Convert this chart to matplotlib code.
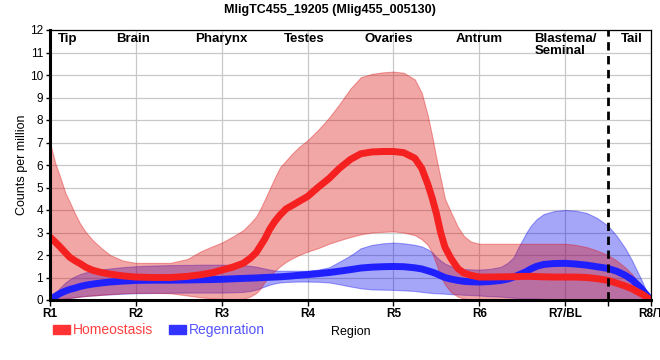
import numpy as np
import matplotlib
matplotlib.use("Agg")
import matplotlib.pyplot as plt
from matplotlib.patches import Patch

plt.rcParams['font.family'] = ['Liberation Sans', 'DejaVu Sans']

# positions along the body (0 = R1 ... 7 = R8)
pos = [0, 0.06, 0.12, 0.18, 0.23, 0.29, 0.35, 0.42, 0.5, 0.6,
       0.7, 0.85, 1.0, 1.2, 1.4, 1.6, 1.75, 1.9, 2.0, 2.12,
       2.25, 2.33, 2.4, 2.45, 2.5, 2.56, 2.62, 2.68, 2.75, 2.82,
       2.9, 3.0, 3.12, 3.25, 3.37, 3.5, 3.62, 3.75, 3.88, 4.0,
       4.12, 4.25, 4.33, 4.4, 4.45, 4.5, 4.55, 4.6, 4.67, 4.75,
       4.82, 4.9, 5.0, 5.12, 5.25, 5.33, 5.4, 5.45, 5.5, 5.55,
       5.6, 5.67, 5.75, 5.87, 6.0, 6.12, 6.25, 6.37, 6.5, 6.6,
       6.7, 6.78, 6.85, 6.9, 6.95, 7.0]

homeo_mean = [2.8, 2.58, 2.35, 2.1, 1.9, 1.75, 1.62, 1.45, 1.32, 1.22,
              1.15, 1.07, 1.02, 1.0, 1.0, 1.05, 1.12, 1.22, 1.33, 1.45,
              1.63, 1.85, 2.1, 2.4, 2.7, 3.15, 3.5, 3.78, 4.05, 4.2,
              4.38, 4.6, 5.0, 5.4, 5.85, 6.25, 6.5, 6.58, 6.6, 6.6,
              6.55, 6.3, 5.85, 5.15, 4.55, 3.85, 3.0, 2.35, 1.85, 1.4,
              1.2, 1.1, 1.02, 1.02, 1.03, 1.03, 1.04, 1.04, 1.05, 1.05,
              1.05, 1.04, 1.03, 1.02, 1.02, 1.02, 1.0, 0.95, 0.87, 0.75,
              0.62, 0.5, 0.35, 0.25, 0.12, 0]
homeo_hi = [7.0, 6.1, 5.45, 4.75, 4.35, 3.85, 3.4, 3.0, 2.65, 2.3,
            2.0, 1.75, 1.65, 1.65, 1.65, 1.82, 2.15, 2.4, 2.55, 2.8,
            3.1, 3.4, 3.7, 4.05, 4.45, 4.95, 5.45, 5.9, 6.2, 6.5,
            6.8, 7.1, 7.55, 8.1, 8.7, 9.4, 9.9, 10.05, 10.12, 10.15,
            10.1, 9.8, 9.2, 8.2, 7.3, 6.3, 5.4, 4.5, 3.9, 3.25,
            2.85, 2.6, 2.5, 2.5, 2.5, 2.5, 2.5, 2.5, 2.5, 2.5,
            2.5, 2.5, 2.5, 2.5, 2.5, 2.45, 2.35, 2.2, 2.0, 1.75,
            1.45, 1.15, 0.8, 0.55, 0.25, 0]
homeo_lo = [0, 0.03, 0.05, 0.08, 0.1, 0.12, 0.15, 0.18, 0.2, 0.23,
            0.26, 0.3, 0.32, 0.32, 0.3, 0.2, 0.12, 0.07, 0.05, 0.04,
            0.05, 0.15, 0.3, 0.5, 0.8, 1.05, 1.3, 1.5, 1.7, 1.85,
            2.0, 2.15, 2.3, 2.5, 2.65, 2.8, 2.92, 3.0, 3.03, 3.05,
            3.0, 2.88, 2.7, 2.45, 2.1, 1.6, 1.05, 0.7, 0.35, 0.15,
            0.06, 0.02, 0, 0, 0, 0, 0, 0, 0, 0,
            0, 0, 0, 0, 0, 0, 0, 0, 0, 0,
            0, 0, 0, 0, 0, 0]

regen_mean = [0, 0.16, 0.3, 0.4, 0.47, 0.53, 0.6, 0.66, 0.71, 0.76,
              0.8, 0.84, 0.87, 0.88, 0.88, 0.89, 0.9, 0.91, 0.92, 0.94,
              0.96, 0.97, 0.98, 0.99, 1.0, 1.01, 1.02, 1.03, 1.05, 1.07,
              1.1, 1.13, 1.17, 1.22, 1.28, 1.35, 1.42, 1.46, 1.48, 1.49,
              1.48, 1.43, 1.38, 1.3, 1.24, 1.17, 1.08, 1.0, 0.93, 0.87,
              0.83, 0.81, 0.8, 0.82, 0.87, 0.93, 1.02, 1.1, 1.18, 1.27,
              1.38, 1.5, 1.58, 1.62, 1.63, 1.6, 1.55, 1.48, 1.4, 1.28,
              1.1, 0.9, 0.65, 0.45, 0.22, 0]
regen_hi = [0.02, 0.3, 0.55, 0.78, 0.92, 1.05, 1.15, 1.23, 1.3, 1.36,
            1.4, 1.46, 1.5, 1.53, 1.55, 1.56, 1.57, 1.57, 1.57, 1.56,
            1.55, 1.52, 1.48, 1.44, 1.4, 1.35, 1.31, 1.3, 1.3, 1.3,
            1.3, 1.3, 1.35, 1.45, 1.7, 1.98, 2.3, 2.45, 2.52, 2.55,
            2.52, 2.45, 2.38, 2.25, 2.12, 1.92, 1.75, 1.62, 1.5, 1.42,
            1.38, 1.36, 1.35, 1.38, 1.47, 1.65, 1.9, 2.3, 2.65, 3.0,
            3.3, 3.6, 3.82, 3.95, 4.0, 3.97, 3.87, 3.65, 3.3, 2.85,
            2.3, 1.75, 1.2, 0.8, 0.35, 0]
regen_lo = [0, 0.02, 0.03, 0.06, 0.08, 0.12, 0.15, 0.18, 0.2, 0.23,
            0.25, 0.28, 0.3, 0.31, 0.32, 0.33, 0.33, 0.33, 0.33, 0.34,
            0.36, 0.4, 0.46, 0.53, 0.6, 0.68, 0.74, 0.78, 0.8, 0.81,
            0.82, 0.82, 0.81, 0.78, 0.7, 0.6, 0.52, 0.47, 0.46, 0.45,
            0.43, 0.4, 0.36, 0.33, 0.31, 0.3, 0.29, 0.28, 0.26, 0.25,
            0.23, 0.22, 0.2, 0.17, 0.15, 0.12, 0.1, 0.09, 0.08, 0.08,
            0.07, 0.06, 0.05, 0.04, 0.03, 0.02, 0.02, 0.01, 0.01, 0,
            0, 0, 0, 0, 0, 0]

tick_labels = ['R1', 'R2', 'R3', 'R4', 'R5', 'R6', 'R7/BL', 'R8/T']
regions = ['Tip', 'Brain', 'Pharynx', 'Testes', 'Ovaries', 'Antrum', 'Blastema/\nSeminal', 'Tail']
region_x = [0.21, 0.97, 2.0, 2.96, 3.94, 5.0, 5.64, 6.78]
tail_start = 6.5

fig = plt.figure(figsize=(6.6, 3.6), dpi=100)
ax = fig.add_axes([50 / 660, 60 / 360, 601 / 660, 270 / 360])

ax.fill_between(pos, regen_lo, regen_hi, color='#0000f0', alpha=0.35, linewidth=0.8)
ax.plot(pos, regen_mean, color='#2020ff', linewidth=5, solid_joinstyle='round',
        solid_capstyle='butt')
ax.fill_between(pos, homeo_lo, homeo_hi, color='#dd1111', alpha=0.37, linewidth=0.8)
ax.plot(pos, homeo_mean, color='#f52020', linewidth=5, solid_joinstyle='round',
        solid_capstyle='butt')
ax.axvline(tail_start, color='black', linewidth=2, linestyle=(0, (3, 2)))

ax.set_xlim(0, 7)
ax.set_ylim(0, 12)
ax.set_xticks(range(8))
ax.set_xticklabels(tick_labels, fontsize=8.5, fontweight='bold')
ax.set_xticks([tail_start], minor=True)
ax.set_yticks(range(13))
ax.tick_params(axis='y', labelsize=8.5, length=3, width=1, pad=2)
ax.tick_params(axis='x', which='both', length=4, width=1, pad=2)
ax.grid(True, color='#c8c8c8', linewidth=0.9)
ax.set_axisbelow(True)

for side in ['left', 'bottom']:
    ax.spines[side].set_linewidth(2.2)
for side in ['top', 'right']:
    ax.spines[side].set_linewidth(0.9)

for name, x in zip(regions, region_x):
    ha = 'left' if '\n' in name else 'center'
    ax.text(x, 11.85, name, ha=ha, va='top', fontsize=9.5, fontweight='bold',
            linespacing=1.0)

ax.set_ylabel('Counts per million', fontsize=9, labelpad=1)
ax.set_xlabel('Region', fontsize=9, labelpad=4)
fig.suptitle('MligTC455_19205 (Mlig455_005130)', fontsize=9, fontweight='bold',
             y=1 - 10 / 360, va='center')

handles = [Patch(color='#ff3333'), Patch(color='#3333ff')]
ax.legend(handles, ['Homeostasis', 'Regenration'], ncol=2, frameon=False,
          loc='center left', bbox_to_anchor=(53 / 660, 1 - 330 / 360),
          bbox_transform=fig.transFigure, fontsize=10, labelcolor=['#ff4040', '#5555ff'],
          handlelength=1.2, handleheight=0.6, handletextpad=0.2, columnspacing=1.2,
          borderpad=0, borderaxespad=0)

fig.savefig('out.png', dpi=100)
